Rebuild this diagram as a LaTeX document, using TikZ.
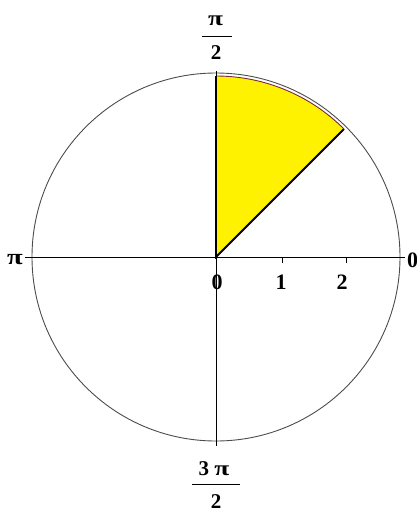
\documentclass[tikz,border=0pt]{standalone}
\usepackage{fontspec}
\usepackage{graphicx}
\setmainfont{Liberation Serif}
\usetikzlibrary{calc}
\newcommand{\widepi}{\scalebox{1.3}[1]{π}}
\begin{document}
\begin{tikzpicture}[x=1pt,y=1pt,
  axisline/.style={draw=black,line width=0.9pt},
  circline/.style={draw=black!70,line width=0.9pt},
  numlabel/.style={font=\fontsize{22}{22}\selectfont\bfseries,inner sep=0pt},
  fraclabel/.style={font=\fontsize{21}{21}\selectfont\bfseries,inner sep=0pt},
  tickline/.style={draw=black,line width=0.9pt}]
\useasboundingbox (0,0) rectangle (417,-512);
\coordinate (C) at (216,-257);
% circle
\draw[circline] (C) circle[radius=184];
% wedge
\coordinate (wt) at (216,-76);
\coordinate (wc) at ($(C)+(45:181)$);
\fill[yellow] (C) -- (wt) arc[start angle=90,end angle=45,radius=181] -- cycle;
\draw[black,line width=1.8pt] (wt) -- (C) -- (wc);
\draw[draw={rgb,255:red,120;green,40;blue,60},line width=0.9pt] (wt) arc[start angle=90,end angle=45,radius=181];
% axes
\coordinate (xl) at (25,-257);
\coordinate (xr) at (405,-257);
\coordinate (yt) at (216,-71);
\coordinate (yb) at (216,-446);
\draw[axisline] (xl) -- (xr);
\draw[axisline] (yt) -- (yb);
% ticks
\coordinate (t1) at (282,-257);
\coordinate (t2) at (346,-257);
\draw[tickline] (t1) -- ++(0,-6);
\draw[tickline] (t2) -- ++(0,-6);
% numbers
\node[numlabel] (n0) at (217,-282.5) {0};
\node[numlabel] (n1) at (281,-282.5) {1};
\node[numlabel] (n2) at (342,-282.5) {2};
\node[numlabel,anchor=west] (nr) at (407,-260) {0};
\node[numlabel] (npi) at (15,-260) {\widepi};
% top fraction
\node[fraclabel] (tpi) at (215.5,-21) {\widepi};
\draw[black,line width=0.9pt] (202,-36) -- (232,-36);
\node[fraclabel] (t2d) at (216,-52.5) {2};
% bottom fraction
\node[fraclabel] (b3) at (214,-469) {3 \widepi};
\draw[black,line width=0.9pt] (192,-484) -- (240,-484);
\node[fraclabel] (b2d) at (216,-501.5) {2};
\end{tikzpicture}
\end{document}
